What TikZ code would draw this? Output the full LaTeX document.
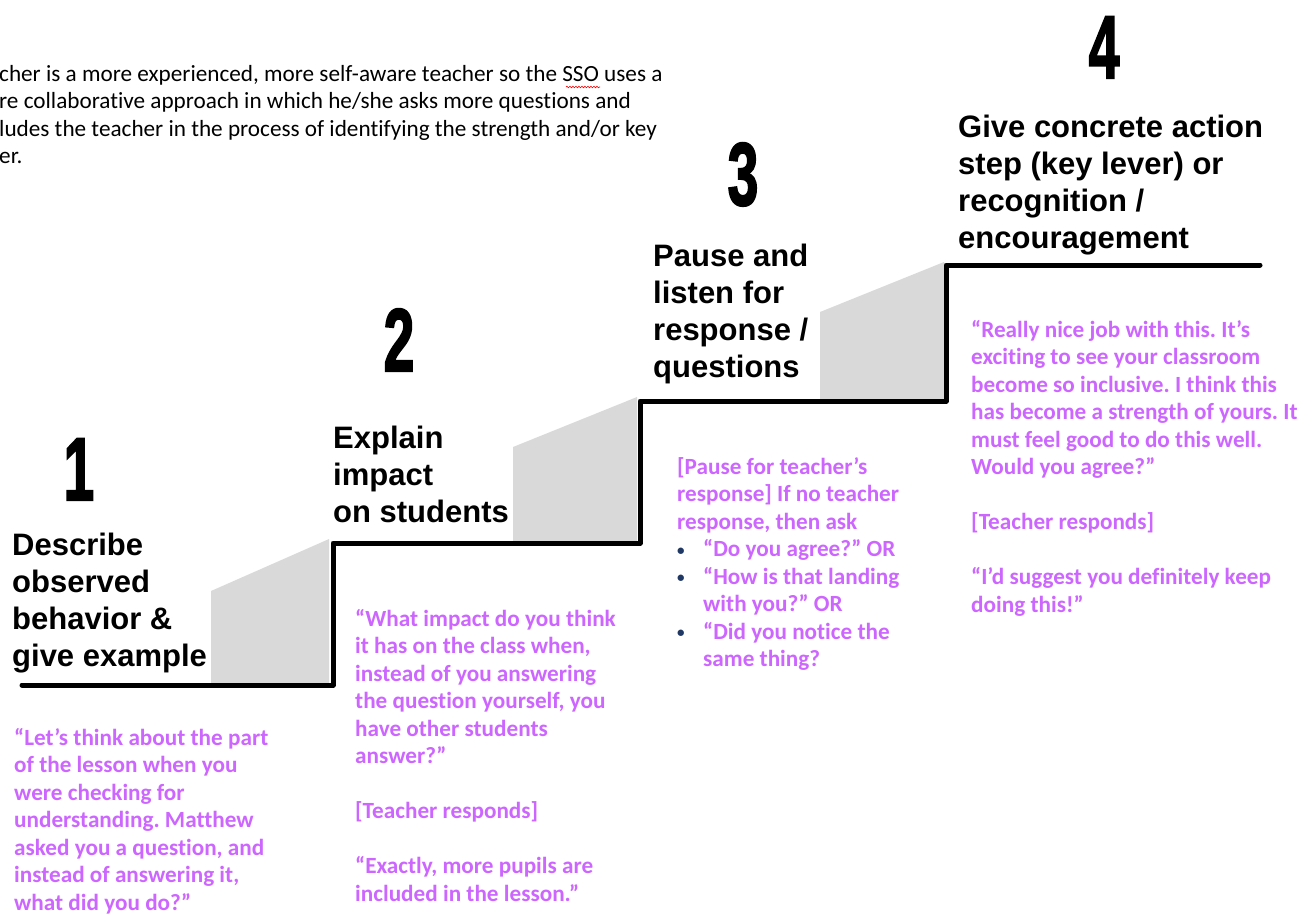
\documentclass[tikz,border=0pt]{standalone}
\usepackage{fontspec}
\setmainfont{Liberation Sans}
\newfontfamily\calib[Ligatures=NoCommon]{Carlito}
\newfontfamily\digitfont[FakeBold=2.5]{Liberation Sans Bold}
\usetikzlibrary{decorations.pathmorphing}
\definecolor{quotepurple}{RGB}{204,102,255}
\definecolor{bulletblue}{RGB}{31,56,100}
\definecolor{riser}{RGB}{217,217,217}
\newcommand{\blt}{\makebox[26pt][l]{\textcolor{bulletblue}{\raisebox{1.5pt}{\scalebox{0.65}{\textbullet}}}}}
\newcommand{\bltgap}{\hspace*{26pt}}
\frenchspacing

\begin{document}
\begin{tikzpicture}[x=1pt,y=-1pt,
  stair/.style={line width=5pt, line cap=round, line join=round},
  risershade/.style={fill=riser, draw=none},
  stepnum/.style={anchor=base, inner sep=0pt,
    font=\digitfont\fontsize{89}{89}\selectfont},
  stephead/.style={anchor=north west, inner sep=0pt, align=left,
    font=\fontsize{31}{37}\selectfont\bfseries},
  quotetext/.style={anchor=north west, inner sep=0pt, align=left,
    text=quotepurple, font=\calib\fontsize{23.2}{27.5}\selectfont\bfseries},
  introtext/.style={anchor=north west, inner sep=0pt, align=left,
    font=\calib\fontsize{23.2}{27.5}\selectfont}
]
\useasboundingbox (0,0) rectangle (1301,914);

% intro paragraph (left edge runs off the page)
\node[introtext] (intro) at (-1,65)
  {cher is a more experienced, more self-aware teacher so the SSO uses a\\
   re collaborative approach in which he/she asks more questions and\\
   ludes the teacher in the process of identifying the strength and/or key\\
   er.};
\draw[red, line width=0.6pt, decorate,
  decoration={snake, segment length=3pt, amplitude=0.8pt}]
  (566,87) -- (600,87);

% shaded risers
\fill[risershade] (211,685) -- (211,591) -- (329,539) -- (329,685) -- cycle;
\fill[risershade] (513,543) -- (513,447) -- (637,397) -- (637,543) -- cycle;
\fill[risershade] (820,401) -- (820,312) -- (944,262) -- (944,401) -- cycle;

% the staircase
\coordinate (s0) at (22,685);
\coordinate (s1) at (333,685);
\coordinate (s2) at (333,543);
\coordinate (s3) at (640,543);
\coordinate (s4) at (640,401);
\coordinate (s5) at (946,401);
\coordinate (s6) at (946,265);
\coordinate (s7) at (1260,265);
\draw[stair] (s0) -- (s1) -- (s2) -- (s3) -- (s4) -- (s5) -- (s6) -- (s7);

% step numbers
\node[stepnum] (n1) at (79,500) {\scalebox{0.62}[1]{1}};
\node[stepnum] (n2) at (399,371) {\scalebox{0.62}[1]{2}};
\node[stepnum] (n3) at (743,205) {\scalebox{0.62}[1]{3}};
\node[stepnum] (n4) at (1104,78) {\scalebox{0.62}[1]{4}};

% step headings
\node[stephead] (h1) at (12,533) {Describe\\observed\\behavior \&\\give example};
\node[stephead] (h2) at (333,426) {Explain\\impact\\on students};
\node[stephead] (h3) at (653,244) {Pause and\\listen for\\response /\\questions};
\node[stephead] (h4) at (958,115) {Give concrete action\\step (key lever) or\\recognition /\\encouragement};

% example scripts
\node[quotetext] (q1) at (14,728)
  {“Let’s think about the part\\
   of the lesson when you\\
   were checking for\\
   understanding. Matthew\\
   asked you a question, and\\
   instead of answering it,\\
   what did you do?”};
\node[quotetext] (q2) at (355,609)
  {“What impact do you think\\
   it has on the class when,\\
   instead of you answering\\
   the question yourself, you\\
   have other students\\
   answer?”\\[27.5pt]
   [Teacher responds]\\[27.5pt]
   “Exactly, more pupils are\\
   included in the lesson.”};
\node[quotetext] (q3) at (677,457)
  {[Pause for teacher’s\\
   response] If no teacher\\
   response, then ask\\
   \blt“Do you agree?” OR\\
   \blt“How is that landing\\
   \bltgap with you?” OR\\
   \blt“Did you notice the\\
   \bltgap same thing?};
\node[quotetext] (q4) at (971,320)
  {“Really nice job with this. It’s\\
   exciting to see your classroom\\
   become so inclusive. I think this\\
   has become a strength of yours. It\\
   must feel good to do this well.\\
   Would you agree?”\\[27.5pt]
   [Teacher responds]\\[27.5pt]
   “I’d suggest you definitely keep\\
   doing this!”};
\end{tikzpicture}
\end{document}
